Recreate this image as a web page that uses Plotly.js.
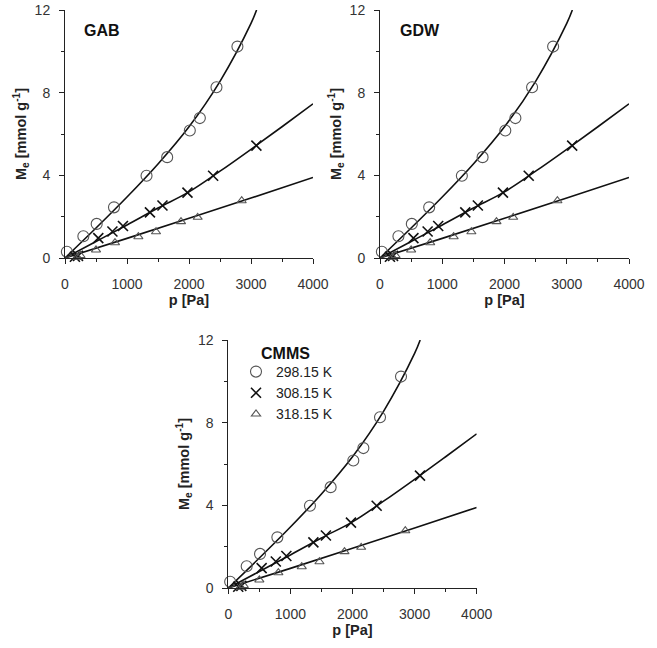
<!DOCTYPE html>
<html>
<head>
<meta charset="utf-8">
<script src="https://cdn.plot.ly/plotly-3.0.1.min.js"></script>
<style>html,body{margin:0;padding:0;background:#fff;}#chart{width:657px;height:648px;}</style>
</head>
<body>
<div id="chart"></div>
<script>
// Measured points (p [Pa], Me [mmol g-1])
var p298 = [30, 296, 511, 790, 1315, 1648, 2013, 2175, 2443, 2781];
var m298 = [0.30, 1.05, 1.65, 2.45, 3.98, 4.88, 6.17, 6.77, 8.26, 10.23];
var p308 = [160, 210, 537, 765, 935, 1370, 1572, 1975, 2389, 3087];
var m308 = [0.06, 0.10, 0.96, 1.28, 1.55, 2.21, 2.54, 3.16, 3.98, 5.44];
var p318 = [200, 250, 500, 806, 1183, 1468, 1871, 2140, 2850];
var m318 = [0.04, 0.12, 0.39, 0.74, 1.03, 1.27, 1.76, 1.97, 2.77];

// Fitted curves
var fitP298 = [0, 500, 1000, 1500, 2000, 2500, 3000, 3090];
var fitM298 = [0, 1.45, 2.95, 4.55, 6.35, 8.55, 11.35, 12.0];
var fitP308 = [0, 500, 1000, 1500, 2000, 2500, 3000, 3500, 4000];
var fitM308 = [0, 0.8, 1.6, 2.42, 3.2, 4.2, 5.26, 6.35, 7.46];
var fitP318 = [0, 1000, 2000, 3000, 4000];
var fitM318 = [0, 0.95, 1.92, 2.9, 3.9];

var panelNames = ["GAB", "GDW", "CMMS"];
var seriesNames = ["298.15 K", "308.15 K", "318.15 K"];
var xTicks = [0, 1000, 2000, 3000, 4000];
var yTicks = [0, 4, 8, 12];

var W = 657, H = 648;
var panels = [
  {xa: 'x', ya: 'y', x0: 65, x1: 313, yt: 10, yb: 258},
  {xa: 'x2', ya: 'y2', x0: 380, x1: 629, yt: 10, yb: 258},
  {xa: 'x3', ya: 'y3', x0: 228.3, x1: 476.7, yt: 340, yb: 588}
];

var pts = [[p298, m298], [p308, m308], [p318, m318]];
var fits = [[fitP298, fitM298], [fitP308, fitM308], [fitP318, fitM318]];
var markers = [
  {symbol: 'circle-open', size: 11, color: '#555', line: {width: 1.1, color: '#555'}},
  {symbol: 'x-thin-open', size: 10, color: '#111', line: {width: 1.6, color: '#111'}},
  {symbol: 'triangle-up-open', size: 8, color: '#555', line: {width: 1.1, color: '#555'}}
];

var traces = [];
panels.forEach(function (pn, i) {
  for (var s = 0; s < 3; s++) {
    traces.push({
      x: fits[s][0], y: fits[s][1], xaxis: pn.xa, yaxis: pn.ya,
      mode: 'lines', line: {color: '#111', width: 1.6, shape: 'spline', smoothing: 1},
      showlegend: false, hoverinfo: 'skip'
    });
  }
  for (var s2 = 0; s2 < 3; s2++) {
    traces.push({
      x: pts[s2][0], y: pts[s2][1], xaxis: pn.xa, yaxis: pn.ya,
      mode: 'markers', marker: markers[s2], name: seriesNames[s2],
      showlegend: i === 2, cliponaxis: false
    });
  }
});

var FAM = 'Liberation Sans, Arial, sans-serif';
var tickFont = {family: FAM, size: 14, color: '#333'};
var titleFont = {family: FAM, size: 14.5, color: '#222'};

function xax(pn) {
  return {
    domain: [pn.x0 / W, pn.x1 / W], range: [0, 4000], anchor: pn.ya,
    tickvals: xTicks, ticks: 'outside', ticklen: 5, tickwidth: 1, tickcolor: '#222',
    minor: {dtick: 500, tick0: 0, ticks: 'outside', ticklen: 3, tickcolor: '#222'},
    showline: true, linecolor: '#222', linewidth: 1, showgrid: false, zeroline: false,
    ticklabelstandoff: 8,
    tickfont: tickFont, title: {text: '<b>p [Pa]</b>', font: titleFont, standoff: 4}
  };
}
function yax(pn) {
  return {
    domain: [1 - pn.yb / H, 1 - pn.yt / H], range: [0, 12], anchor: pn.xa,
    tickvals: yTicks, ticks: 'outside', ticklen: 5, tickwidth: 1, tickcolor: '#222',
    minor: {dtick: 2, tick0: 0, ticks: 'outside', ticklen: 3, tickcolor: '#222'},
    showline: true, linecolor: '#222', linewidth: 1, showgrid: false, zeroline: false,
    ticklabelstandoff: 6,
    tickfont: tickFont, title: {text: '<b>M<sub>e</sub> [mmol g<sup>-1</sup>]</b>', font: titleFont, standoff: 4}
  };
}

var layout = {
  width: W, height: H,
  margin: {l: 0, r: 0, t: 0, b: 0},
  paper_bgcolor: '#fff', plot_bgcolor: '#fff',
  showlegend: true,
  legend: {x: 236 / W, y: 1 - 356 / H, xanchor: 'left', yanchor: 'top',
    font: {family: FAM, size: 14, color: '#222'},
    bgcolor: 'rgba(0,0,0,0)', tracegroupgap: 0},
  xaxis: xax(panels[0]), yaxis: yax(panels[0]),
  xaxis2: xax(panels[1]), yaxis2: yax(panels[1]),
  xaxis3: xax(panels[2]), yaxis3: yax(panels[2]),
  annotations: [
    {text: '<b>' + panelNames[0] + '</b>', xref: 'paper', yref: 'paper', x: 82 / W, y: 1 - 31 / H,
     xanchor: 'left', yanchor: 'middle', showarrow: false,
     font: {family: FAM, size: 16, color: '#111'}},
    {text: '<b>' + panelNames[1] + '</b>', xref: 'paper', yref: 'paper', x: 398 / W, y: 1 - 31 / H,
     xanchor: 'left', yanchor: 'middle', showarrow: false,
     font: {family: FAM, size: 16, color: '#111'}},
    {text: '<b>' + panelNames[2] + '</b>', xref: 'paper', yref: 'paper', x: 259 / W, y: 1 - 353 / H,
     xanchor: 'left', yanchor: 'middle', showarrow: false,
     font: {family: FAM, size: 16, color: '#111'}}
  ]
};

Plotly.newPlot('chart', traces, layout, {displayModeBar: false, staticPlot: true});
</script>
</body>
</html>
